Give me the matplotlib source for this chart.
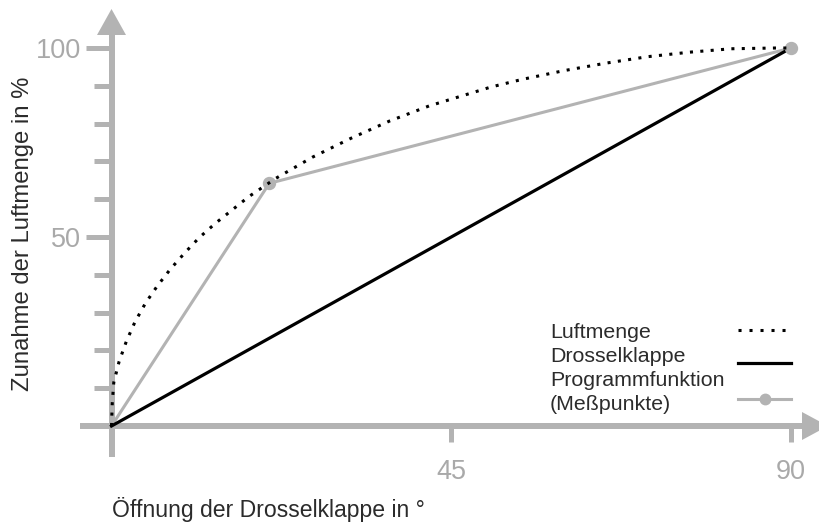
import matplotlib
matplotlib.use("Agg")
import matplotlib.pyplot as plt
import matplotlib.transforms as mtransforms
from matplotlib.lines import Line2D
from matplotlib.patches import Polygon

plt.rcParams['font.family'] = ['Liberation Sans', 'DejaVu Sans']

# ---------------- data ----------------
# Luftmenge (dotted curve)
luft_x = [0, 0.1, 0.3, 1.0, 1.95, 3.1, 4.5, 6.05, 7.8, 9.7, 11.6, 13.75, 18.2,
          21.75, 26.6, 31.7, 36.85, 42.1, 50.3, 54.4, 59.9, 65.5, 71.0, 76.6,
          82.1, 88.0, 90]
luft_y = [0, 6.0, 11.5, 17.0, 22.3, 27.5, 32.5, 37.0, 41.5, 45.8, 49.8, 53.6, 60.7,
          65.5, 71.1, 76.1, 80.7, 84.7, 89.7, 91.7, 94.0, 96.0, 97.7, 98.9,
          99.8, 100.0, 100]
# Drosselklappe (linear)
dk_x = [0, 90]
dk_y = [0, 100]
# Programmfunktion (Meßpunkte)
pf_x = [0, 20.9, 90]
pf_y = [0, 64.2, 100]

x_ticks = [45, 90]
x_ticklabels = ["45", "90"]
y_major = [50, 100]
y_major_labels = ["50", "100"]
y_minor = [10, 20, 30, 40, 60, 70, 80, 90]

legend_labels = ["Luftmenge", "Drosselklappe", "Programmfunktion", "(Meßpunkte)"]

# ---------------- figure ----------------
W, H = 819, 522
fig = plt.figure(figsize=(W / 100, H / 100), dpi=100)
fig.patch.set_facecolor("white")

ox, oy = 111.5, 426.0      # origin pixel
x90, y100 = 791.0, 48.0
ax = fig.add_axes([ox / W, (H - oy) / H, (x90 - ox) / W, (oy - y100) / H])
ax.set_xlim(0, 90)
ax.set_ylim(0, 100)
for s in ax.spines.values():
    s.set_visible(False)
ax.patch.set_alpha(0)

GRAY = "#b3b3b3"
TXT = "#2b2b2b"
LBLGRAY = "#a9a9a9"

# pixel transform (origin top-left)
pix = mtransforms.Affine2D().scale(1, -1).translate(0, H).scale(1 / W, 1 / H) + fig.transFigure

# axis lines (drawn below the axes content)
axlw = 6 * 72 / 100
fig.add_artist(Line2D([80, 806], [oy, oy], color=GRAY, lw=axlw, transform=pix,
                      solid_capstyle="butt", zorder=-1))
fig.add_artist(Line2D([ox, ox], [457, 30], color=GRAY, lw=axlw, transform=pix,
                      solid_capstyle="butt", zorder=-1))
fig.add_artist(Polygon([[ox, 9], [ox - 14.5, 35], [ox + 14.5, 35]], closed=True,
                       facecolor=GRAY, edgecolor="none", transform=pix, zorder=-1))
fig.add_artist(Polygon([[828, oy], [802, oy - 14], [802, oy + 14]], closed=True,
                       facecolor=GRAY, edgecolor="none", transform=pix, zorder=-1))

# ticks
ax.set_xticks(x_ticks)
ax.set_xticklabels(x_ticklabels)
ax.set_yticks(y_major)
ax.set_yticklabels(y_major_labels)
ax.set_yticks(y_minor, minor=True)
ax.tick_params(axis="y", which="major", direction="out", length=18, width=3.6,
               color=GRAY, labelcolor=LBLGRAY, labelsize=19.5, pad=4)
ax.tick_params(axis="y", which="minor", direction="out", length=12, width=3.6, color=GRAY)
ax.tick_params(axis="x", which="major", direction="out", length=11.5, width=3.6,
               color=GRAY, labelcolor=LBLGRAY, labelsize=19.5, pad=12)
for t in ax.xaxis.get_major_ticks() + ax.yaxis.get_major_ticks() + ax.yaxis.get_minor_ticks():
    t.tick1line.set_clip_on(False)

# data lines
ax.plot(dk_x, dk_y, color="black", lw=2.3, clip_on=False, zorder=4)
ax.plot(pf_x, pf_y, color=GRAY, lw=2.2, clip_on=False, zorder=3)
ax.plot(pf_x[1:], pf_y[1:], linestyle="none", marker="o", markersize=8.6,
        color=GRAY, clip_on=False, zorder=5)
ax.plot(luft_x, luft_y, color="black", lw=2.2, linestyle=(0, (1, 2.4)),
        clip_on=False, zorder=6)

# axis labels
fig.text(112 / W, 1 - 509 / H, "Öffnung der Drosselklappe in °", color=TXT,
         fontsize=16.6, ha="left", va="center")
fig.text(23 / W, 1 - 234 / H, "Zunahme der Luftmenge in %", color=TXT,
         fontsize=17.2, ha="center", va="center", rotation=90)

# legend (manual)
leg_x = 550
leg_ys = [332, 356, 380, 404]
for lab, ly in zip(legend_labels, leg_ys):
    fig.text(leg_x / W, 1 - ly / H, lab, color=TXT, fontsize=15.4, ha="left", va="center")
fig.add_artist(Line2D([738, 786], [330, 330], color="black", lw=2.2,
                      linestyle=(0, (1, 2.6)), transform=pix))
fig.add_artist(Line2D([738, 791], [363, 363], color="black", lw=2.3, transform=pix))
fig.add_artist(Line2D([738, 791], [399, 399], color=GRAY, lw=2.2, transform=pix))
fig.add_artist(Line2D([765], [399], color=GRAY, marker="o", markersize=7.5,
                      linestyle="none", transform=pix))

fig.savefig("out.png", dpi=100)
